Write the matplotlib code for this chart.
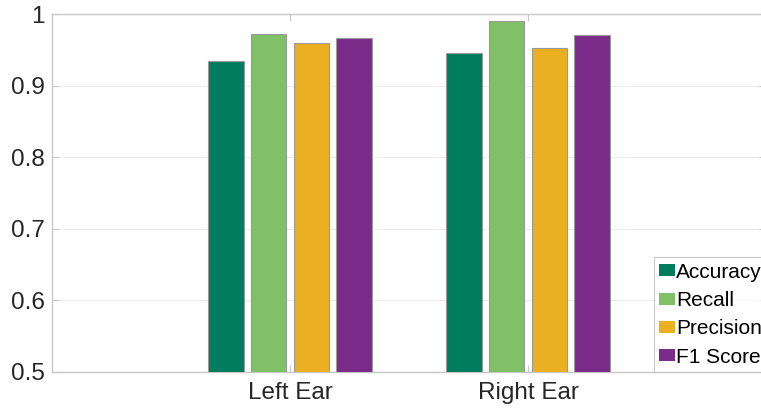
import numpy as np
import matplotlib.pyplot as plt

plt.rcParams['font.family'] = ['Liberation Sans', 'DejaVu Sans']

# data
categories = ["Left Ear", "Right Ear"]
metrics = ["Accuracy", "Recall", "Precision", "F1 Score"]
accuracy = [0.934, 0.946]
recall = [0.972, 0.990]
precision = [0.960, 0.952]
f1_score = [0.966, 0.971]

series = [accuracy, recall, precision, f1_score]
colors = ["#007d5e", "#80c066", "#ebb022", "#7b2c8b"]

fig = plt.figure(figsize=(7.61, 4.09), dpi=100)
ax = fig.add_axes([52 / 761, 37 / 409, 714 / 761, 358 / 409])

x = np.arange(1, len(categories) + 1)
width = 0.15
offsets = [-0.27, -0.09, 0.09, 0.27]
for vals, off, col, lab in zip(series, offsets, colors, metrics):
    ax.bar(x + off, vals, width, color=col, edgecolor="#9a9a9a",
           linewidth=0.8, label=lab, zorder=3)

ax.set_xlim(0, 3)
ax.set_ylim(0.5, 1.0)
ax.set_xticks(x)
ax.set_xticklabels(categories)
ax.set_yticks(np.arange(0.5, 1.01, 0.1))
ax.set_yticklabels(["0.5", "0.6", "0.7", "0.8", "0.9", "1"])
ax.tick_params(axis="both", direction="in", colors="#c8c8c8", labelcolor="#262626",
               labelsize=17.5, length=5, width=0.8, top=True, right=True)
ax.tick_params(axis="x", pad=7)
ax.tick_params(axis="y", pad=5)
ax.grid(axis="y", color="#ececec", linewidth=0.8, zorder=0)
for s in ax.spines.values():
    s.set_color("#c8c8c8")
    s.set_linewidth(1.0)

leg = ax.legend(loc="lower left", fontsize=15, frameon=True, fancybox=False,
                edgecolor="#bdbdbd", handlelength=0.75, handleheight=0.5,
                handletextpad=0.08, borderpad=0.25, labelspacing=0.45,
                borderaxespad=0.0, bbox_to_anchor=(0.843, 0.0))
leg.get_frame().set_linewidth(0.8)
for h in leg.legend_handles:
    h.set_edgecolor("none")

fig.savefig("out.png", dpi=100)
